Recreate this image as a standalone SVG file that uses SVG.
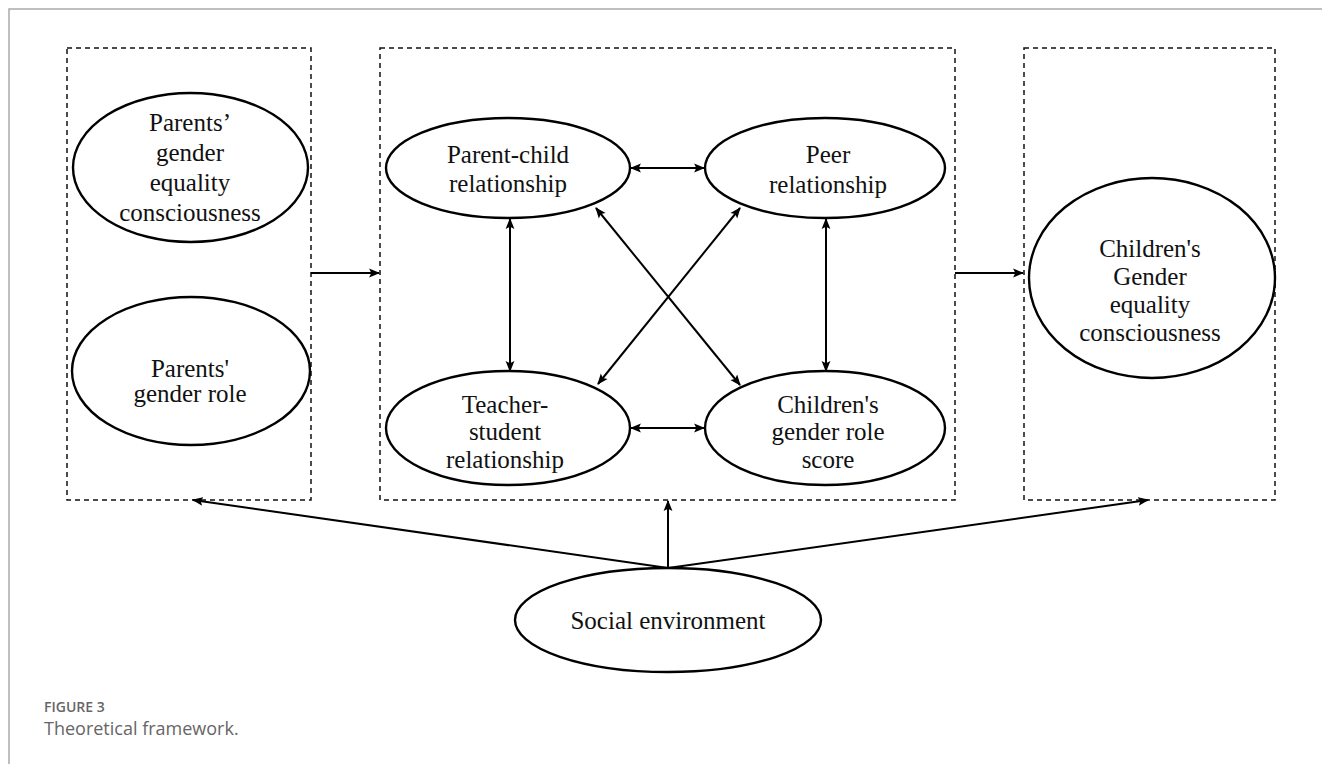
<svg xmlns="http://www.w3.org/2000/svg" width="1322" height="764" viewBox="0 0 1322 764">
<defs>
<style>
.box{fill:none;stroke:#111;stroke-width:1.5;stroke-dasharray:5,4}
.node{fill:#fff;stroke:#000;stroke-width:2.4}
.lbl{font-family:"Liberation Serif","Times New Roman",serif;font-size:25px;fill:#111;text-anchor:middle}
.con{fill:none;stroke:#000;stroke-width:2}
.cap1{font-family:"Open Sans","Liberation Sans",sans-serif;font-size:14px;font-weight:600;fill:#666}
.cap2{font-family:"Open Sans","Liberation Sans",sans-serif;font-size:18px;fill:#666}
</style>
<marker id="ahb" viewBox="0 0 10 10" refX="9" refY="5" markerWidth="11" markerHeight="11" orient="auto-start-reverse" markerUnits="userSpaceOnUse">
<path d="M0,1 L10,5 L0,9 L2,5 Z" fill="#000"/>
</marker>
</defs>
<rect width="1322" height="764" fill="#fff"/>
<path d="M9,764 L9,9 L1322,9" fill="none" stroke="#aaa" stroke-width="1.5"/>
<g id="boxes">
<rect class="box" x="67" y="48" width="244" height="452"/>
<rect class="box" x="380" y="48" width="575" height="452"/>
<rect class="box" x="1024" y="48" width="251" height="452"/>
</g>
<g id="connectors">
<line class="con" x1="311" y1="273" x2="379" y2="273" marker-end="url(#ahb)"/>
<line class="con" x1="955" y1="273" x2="1023" y2="273" marker-end="url(#ahb)"/>
<line class="con" x1="631" y1="168" x2="704" y2="168" marker-start="url(#ahb)" marker-end="url(#ahb)"/>
<line class="con" x1="631" y1="428" x2="704" y2="428" marker-start="url(#ahb)" marker-end="url(#ahb)"/>
<line class="con" x1="510" y1="219" x2="510" y2="371" marker-start="url(#ahb)" marker-end="url(#ahb)"/>
<line class="con" x1="826" y1="219" x2="826" y2="371" marker-start="url(#ahb)" marker-end="url(#ahb)"/>
<line class="con" x1="596" y1="208" x2="740" y2="385" marker-start="url(#ahb)" marker-end="url(#ahb)"/>
<line class="con" x1="740" y1="208" x2="598" y2="384" marker-start="url(#ahb)" marker-end="url(#ahb)"/>
<line class="con" x1="668" y1="568" x2="668" y2="501" marker-end="url(#ahb)"/>
<line class="con" x1="668" y1="568" x2="193" y2="500" marker-end="url(#ahb)"/>
<line class="con" x1="668" y1="568" x2="1148" y2="500" marker-end="url(#ahb)"/>
</g>
<g id="n-parents-equality">
<ellipse class="node" cx="190.5" cy="167.5" rx="117.5" ry="74.5"/>
<text class="lbl" x="190" y="131">Parents’</text>
<text class="lbl" x="190" y="161">gender</text>
<text class="lbl" x="190" y="191">equality</text>
<text class="lbl" x="190" y="221">consciousness</text>
</g>
<g id="n-parents-role">
<ellipse class="node" cx="191" cy="371" rx="119" ry="74"/>
<text class="lbl" x="190" y="377">Parents'</text>
<text class="lbl" x="190" y="402">gender role</text>
</g>
<g id="n-parent-child">
<ellipse class="node" cx="508" cy="168" rx="122" ry="50"/>
<text class="lbl" x="508" y="163">Parent-child</text>
<text class="lbl" x="508" y="192">relationship</text>
</g>
<g id="n-peer">
<ellipse class="node" cx="825" cy="168" rx="120" ry="50"/>
<text class="lbl" x="828" y="163">Peer</text>
<text class="lbl" x="828" y="193">relationship</text>
</g>
<g id="n-teacher">
<ellipse class="node" cx="508" cy="428" rx="122" ry="57"/>
<text class="lbl" x="505" y="413">Teacher-</text>
<text class="lbl" x="505" y="440">student</text>
<text class="lbl" x="505" y="468">relationship</text>
</g>
<g id="n-children-role">
<ellipse class="node" cx="825" cy="428" rx="120" ry="57"/>
<text class="lbl" x="828" y="413">Children's</text>
<text class="lbl" x="828" y="440">gender role</text>
<text class="lbl" x="828" y="468">score</text>
</g>
<g id="n-children-equality">
<ellipse class="node" cx="1152" cy="278" rx="123" ry="100"/>
<text class="lbl" x="1150" y="257">Children's</text>
<text class="lbl" x="1150" y="285">Gender</text>
<text class="lbl" x="1150" y="313">equality</text>
<text class="lbl" x="1150" y="341">consciousness</text>
</g>
<g id="n-social">
<ellipse class="node" cx="668" cy="620" rx="153" ry="52"/>
<text class="lbl" x="668" y="629">Social environment</text>
</g>
<g id="caption">
<text class="cap1" x="44" y="712">FIGURE 3</text>
<text class="cap2" x="44" y="735">Theoretical framework.</text>
</g>
</svg>
